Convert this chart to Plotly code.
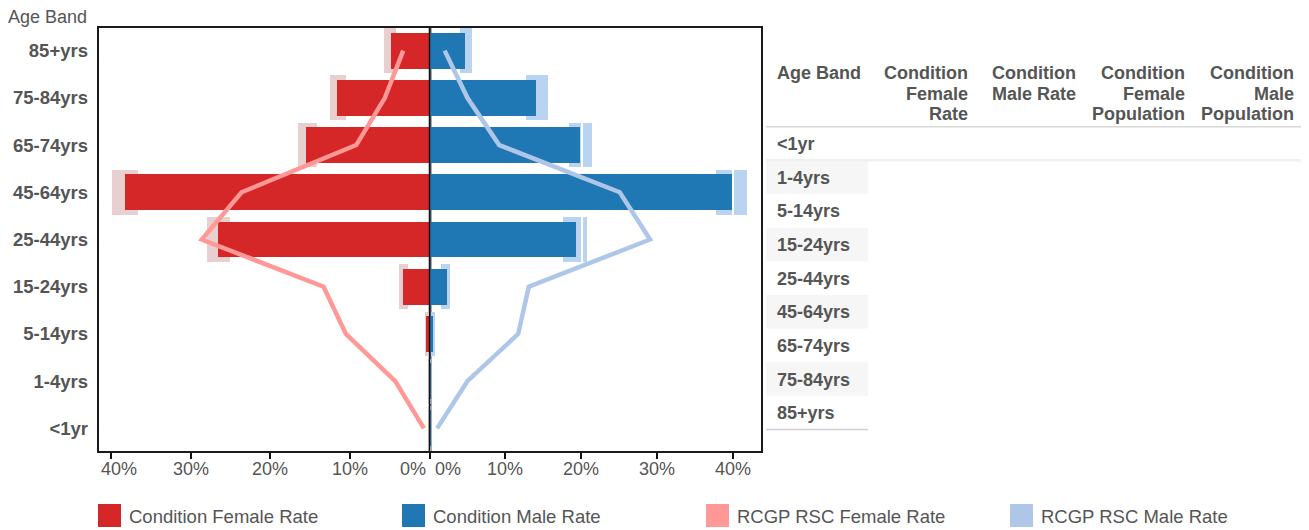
import plotly.graph_objects as go

# ---------------- data ----------------
age_bands = ['<1yr', '1-4yrs', '5-14yrs', '15-24yrs', '25-44yrs',
             '45-64yrs', '65-74yrs', '75-84yrs', '85+yrs']

female_rate = [0.03, 0.03, 0.4, 3.3, 26.5, 38.2, 15.5, 11.6, 4.8]
female_ci_low = [0.0, 0.0, 0.2, 2.7, 25.0, 36.6, 14.1, 10.5, 4.2]
female_ci_high = [0.08, 0.08, 0.55, 3.8, 28.0, 39.9, 16.5, 12.5, 5.7]

male_rate = [0.05, 0.05, 0.4, 2.2, 19.2, 39.8, 19.8, 14.0, 4.66]
male_ci_low = [0.0, 0.0, 0.1, 1.5, 17.6, 37.8, 18.3, 12.7, 4.0]
male_ci_high = [0.1, 0.1, 0.7, 2.7, 20.7, 41.8, 21.4, 15.6, 5.5]

rcgp_female_rate = [0.7, 4.3, 10.5, 13.3, 28.6, 23.6, 9.2, 5.6, 3.3]
rcgp_male_rate = [1.0, 5.0, 11.7, 13.1, 29.1, 25.1, 9.2, 5.0, 2.0]

series_names = ['Condition Female Rate', 'Condition Male Rate',
                'RCGP RSC Female Rate', 'RCGP RSC Male Rate']

left_ticks = [40, 30, 20, 10, 0]
right_ticks = [0, 10, 20, 30, 40]
tick_suffix = '%'

axis_title = 'Age Band'
table_headers = [['Age Band'],
                 ['Condition', 'Female', 'Rate'],
                 ['Condition', 'Male Rate'],
                 ['Condition', 'Female', 'Population'],
                 ['Condition', 'Male', 'Population']]

# ---------------- styles ----------------
RED, BLUE, PINK, LBLUE = '#d62728', '#1f77b4', '#ff9896', '#aec7e8'
CI_PINK, CI_BLUE = '#e9d0d0', '#bad3f1'
series_colors = [RED, BLUE, PINK, LBLUE]
TXT = '#555555'
FONT = 'Liberation Sans, Arial, Helvetica, sans-serif'

W, H = 1309, 530


def px(x):
    return x / W


def py(y):
    return 1 - y / H


PL, PM, PR, PT, PB = 98, 429.5, 762, 27, 452
left_max = 41.63
right_max = 43.87

fig = go.Figure()

common = dict(orientation='h', hoverinfo='skip', showlegend=False)

# confidence bands (behind)
fig.add_trace(go.Bar(y=age_bands, x=[h - l for l, h in zip(female_ci_low, female_ci_high)],
                     base=female_ci_low, width=0.95, marker=dict(color=CI_PINK, line_width=0),
                     xaxis='x', yaxis='y', **common))
fig.add_trace(go.Bar(y=age_bands, x=[h - l for l, h in zip(male_ci_low, male_ci_high)],
                     base=male_ci_low, width=0.95, marker=dict(color=CI_BLUE, line_width=0),
                     xaxis='x2', yaxis='y', **common))

# white grid lines drawn between band layer and bar layer
dl = 1.0 / ((PM - PL) / left_max)
dr = 1.0 / ((PR - PM) / right_max)
for t in left_ticks:
    if t > 0:
        fig.add_trace(go.Bar(y=age_bands, x=[2 * dl] * len(age_bands), base=[t - dl] * len(age_bands),
                             width=1, marker=dict(color='white', line_width=0),
                             xaxis='x', yaxis='y', **common))
for t in right_ticks:
    if t > 0:
        fig.add_trace(go.Bar(y=age_bands, x=[2 * dr] * len(age_bands), base=[t - dr] * len(age_bands),
                             width=1, marker=dict(color='white', line_width=0),
                             xaxis='x2', yaxis='y', **common))

# condition bars
fig.add_trace(go.Bar(y=age_bands, x=female_rate, width=0.76, name=series_names[0],
                     marker=dict(color=RED, line_width=0), xaxis='x', yaxis='y', **common))
fig.add_trace(go.Bar(y=age_bands, x=male_rate, width=0.76, name=series_names[1],
                     marker=dict(color=BLUE, line_width=0), xaxis='x2', yaxis='y', **common))

# reference lines
fig.add_trace(go.Scatter(y=age_bands, x=rcgp_female_rate, mode='lines', name=series_names[2],
                         line=dict(color=PINK, width=4.5), xaxis='x', yaxis='y',
                         hoverinfo='skip', showlegend=False))
fig.add_trace(go.Scatter(y=age_bands, x=rcgp_male_rate, mode='lines', name=series_names[3],
                         line=dict(color=LBLUE, width=4.5), xaxis='x2', yaxis='y',
                         hoverinfo='skip', showlegend=False))

shapes = []
annotations = []

# plot frame and centre lines
shapes.append(dict(type='line', xref='paper', yref='paper', x0=px(PM + 1.3), x1=px(PM + 1.3),
                   y0=py(PB), y1=py(PT), line=dict(color='#14324f', width=1.2), layer='below'))
shapes.append(dict(type='line', xref='paper', yref='paper', x0=px(PM), x1=px(PM),
                   y0=py(PB), y1=py(PT), line=dict(color='#111111', width=1.5), layer='above'))
shapes.append(dict(type='rect', xref='paper', yref='paper', x0=px(PL), x1=px(PR),
                   y0=py(PB), y1=py(PT), line=dict(color='#1a1a1a', width=2), layer='above'))

# axis title
annotations.append(dict(text=axis_title, xref='paper', yref='paper', x=px(88.5), y=py(16.5),
                        xanchor='right', yanchor='middle', showarrow=False,
                        font=dict(size=18, color=TXT, family=FONT)))

# x tick labels
TICK_Y = py(468.5)
TICK_FS = 18
for t in left_ticks:
    a = dict(text=f'{t}{tick_suffix}', xref='x', yref='paper', x=t, y=TICK_Y, yanchor='middle',
             showarrow=False, font=dict(size=TICK_FS, color=TXT, family=FONT), xanchor='center')
    if t == 0:
        a.update(xanchor='right', xshift=-2)
    if t == max(left_ticks):
        a.update(xshift=8)
    annotations.append(a)
for t in right_ticks:
    a = dict(text=f'{t}{tick_suffix}', xref='x2', yref='paper', x=t, y=TICK_Y, yanchor='middle',
             showarrow=False, font=dict(size=TICK_FS, color=TXT, family=FONT), xanchor='center')
    if t == 0:
        a.update(xanchor='left', xshift=3)
    annotations.append(a)

# ---------------- table ----------------
TL, TR, TC1 = 766, 1301, 868
HDR_BOTTOM = 126.7
ROW_H = (429.5 - HDR_BOTTOM) / len(age_bands)
TAB_FS = 18
TXT_LEFT = 774.5
col_right = [None, 970, 1078, 1186.5, 1295.5]
hdr_line_y = [73.3, 94.0, 114.2]
for ci, lines in enumerate(table_headers):
    for li, txt in enumerate(lines):
        if ci == 0:
            annotations.append(dict(text=txt, xref='paper', yref='paper', x=px(TXT_LEFT), y=py(hdr_line_y[li]),
                                    xanchor='left', yanchor='middle', showarrow=False,
                                    font=dict(size=TAB_FS, color=TXT, family=FONT, weight='bold')))
        else:
            annotations.append(dict(text=txt, xref='paper', yref='paper', x=px(col_right[ci]), y=py(hdr_line_y[li]),
                                    xanchor='right', yanchor='middle', showarrow=False,
                                    font=dict(size=TAB_FS, color=TXT, family=FONT, weight='bold')))

for i, band in enumerate(age_bands):
    top = HDR_BOTTOM + ROW_H * i
    if i % 2 == 1:
        shapes.append(dict(type='rect', xref='paper', yref='paper', x0=px(TL), x1=px(TC1),
                           y0=py(top + ROW_H), y1=py(top), fillcolor='#f6f6f6', line_width=0, layer='below'))
    annotations.append(dict(text=band, xref='paper', yref='paper', x=px(TXT_LEFT), y=py(top + ROW_H / 2 + 0.5),
                            xanchor='left', yanchor='middle', showarrow=False,
                            font=dict(size=TAB_FS, color=TXT, family=FONT, weight='bold')))

shapes.append(dict(type='line', xref='paper', yref='paper', x0=px(TL), x1=px(TR),
                   y0=py(HDR_BOTTOM), y1=py(HDR_BOTTOM), line=dict(color='#d8d8d8', width=1.5)))
shapes.append(dict(type='line', xref='paper', yref='paper', x0=px(TL), x1=px(TR),
                   y0=py(HDR_BOTTOM + ROW_H), y1=py(HDR_BOTTOM + ROW_H), line=dict(color='#f0f0f0', width=2.5)))
shapes.append(dict(type='line', xref='paper', yref='paper', x0=px(TL), x1=px(TC1),
                   y0=py(429.5), y1=py(429.5), line=dict(color='#d0d0d0', width=1.5)))

# ---------------- legend ----------------
for i, (name, col) in enumerate(zip(series_names, series_colors)):
    x0 = 98 + 304 * i
    shapes.append(dict(type='rect', xref='paper', yref='paper', x0=px(x0), x1=px(x0 + 23),
                       y0=py(527), y1=py(504), fillcolor=col, line_width=0))
    annotations.append(dict(text=name, xref='paper', yref='paper', x=px(x0 + 29), y=py(516),
                            xanchor='left', yanchor='middle', showarrow=False,
                            font=dict(size=18.5, color=TXT, family=FONT)))

fig.update_layout(
    width=W, height=H, margin=dict(l=0, r=0, t=0, b=0),
    paper_bgcolor='white', plot_bgcolor='white',
    barmode='overlay', bargap=0, showlegend=False,
    font=dict(family=FONT, color=TXT),
    xaxis=dict(domain=[px(PL), px(PM)], range=[left_max, 0], anchor='y',
               showgrid=False, zeroline=False, showline=False,
               tickmode='array', tickvals=left_ticks, showticklabels=False,
               ticks='outside', ticklen=6, tickwidth=1.5, tickcolor='#111111', fixedrange=True),
    xaxis2=dict(domain=[px(PM), px(PR)], range=[0, right_max], anchor='y',
                showgrid=False, zeroline=False, showline=False,
                tickmode='array', tickvals=right_ticks, showticklabels=False,
                ticks='outside', ticklen=6, tickwidth=1.5, tickcolor='#111111', fixedrange=True),
    yaxis=dict(domain=[py(PB), py(PT)], type='category', categoryorder='array',
               categoryarray=age_bands, range=[-0.5, len(age_bands) - 0.5], anchor='x',
               showgrid=False, zeroline=False, showline=False, ticks='',
               ticklabelstandoff=9,
               tickfont=dict(size=18.5, color=TXT, family=FONT, weight='bold'), fixedrange=True),
    shapes=shapes, annotations=annotations,
)

fig.write_html('out.html', config={'displayModeBar': False},
               post_script="document.body.style.margin='0';document.body.style.overflow='hidden';")
